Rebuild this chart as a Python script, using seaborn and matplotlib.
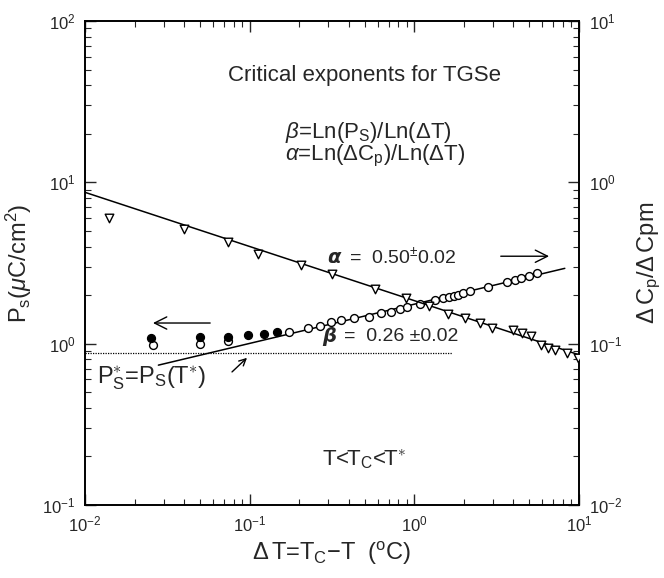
#Exponentes criticos TGSe: Ps y DeltaCp vs DeltaT (log-log, dos ejes)

import seaborn as sns
import matplotlib.pyplot as plt

# DeltaCp/DeltaCpm (eje derecho), triangulos
dt_cp = [0.0140, 0.0397, 0.0734, 0.112, 0.206, 0.318, 0.577, 0.889, 1.23, 1.61, 2.03,
         2.49, 2.96, 3.97, 4.50, 5.10, 5.87, 6.48, 7.14, 8.45, 9.85]
cp = [0.598, 0.512, 0.428, 0.359, 0.306, 0.269, 0.218, 0.192, 0.170, 0.153, 0.1435,
      0.134, 0.1245, 0.121, 0.117, 0.1115, 0.098, 0.0935, 0.092, 0.087, 0.082]

# Ps (eje izquierdo), circulos abiertos y llenos
dt_ps_open = [0.0258, 0.0499, 0.0738, 0.173, 0.227, 0.267, 0.312, 0.361, 0.430, 0.532,
              0.624, 0.721, 0.818, 0.906, 1.08, 1.33, 1.50, 1.63, 1.74, 1.85, 1.98,
              2.18, 2.81, 3.66, 4.08, 4.42, 4.98, 5.57]
ps_open = [0.994, 1.013, 1.052, 1.185, 1.244, 1.286, 1.371, 1.40, 1.435, 1.468,
           1.541, 1.577, 1.639, 1.693, 1.760, 1.863, 1.909, 1.953, 1.982, 2.00, 2.05,
           2.13, 2.25, 2.42, 2.48, 2.54, 2.62, 2.73]
dt_ps_fill = [0.0251, 0.0499, 0.0741, 0.0981, 0.122, 0.147]
ps_fill = [1.078, 1.094, 1.094, 1.131, 1.147, 1.175]

# rectas de ajuste (extremos)
fit_dt_cp = [0.01, 10.0]
fit_cp = [0.867, 0.0853]
fit_dt_ps = [0.0279, 8.2]
fit_ps = [0.736, 2.93]

# Ps* = Ps(T*)
pstar_dt = [0.01, 1.69]
pstar = [0.876, 0.876]

sns.set_style("ticks")
plt.rcParams['font.family'] = ['Liberation Sans', 'DejaVu Sans']
plt.rcParams['mathtext.fontset'] = 'custom'
plt.rcParams['mathtext.rm'] = 'Liberation Sans'
plt.rcParams['mathtext.it'] = 'Liberation Sans:italic'
plt.rcParams['mathtext.bf'] = 'Liberation Sans:bold'

fig = plt.figure(figsize=(6.64, 5.78), dpi=100)
ax = fig.add_axes([85/664, 1-505/578, 494/664, 484/578])
ax2 = ax.twinx()

for a in (ax, ax2):
    a.set_xscale('log')
    a.set_yscale('log')
ax.set_xlim(1e-2, 1e1)
ax.set_ylim(1e-1, 1e2)
ax2.set_ylim(1e-2, 1e1)

# lineas
sns.lineplot(x=fit_dt_cp, y=fit_cp, ax=ax2, color='black', lw=1.1)
sns.lineplot(x=fit_dt_ps, y=fit_ps, ax=ax, color='black', lw=1.1)
sns.lineplot(x=pstar_dt, y=pstar, ax=ax, color='black', lw=0.9, linestyle=(0, (1, 1)))

# puntos
sns.scatterplot(x=dt_cp, y=cp, ax=ax2, marker='v', s=38, facecolor='white',
                edgecolor='black', linewidth=1.0, zorder=3)
sns.scatterplot(x=dt_ps_open[:3], y=[v*0.985 for v in ps_open[:3]], ax=ax, marker='o', s=32,
                facecolor='white', edgecolor='black', linewidth=1.0, zorder=3)
sns.scatterplot(x=dt_ps_fill, y=ps_fill, ax=ax, marker='o', s=32, color='black',
                edgecolor='black', linewidth=1.0, zorder=4)
sns.scatterplot(x=dt_ps_open[3:], y=ps_open[3:], ax=ax, marker='o', s=32,
                facecolor='white', edgecolor='black', linewidth=1.0, zorder=3)

# ejes y ticks
ax.tick_params(which='both', direction='in', top=True, right=False, labelsize=12, pad=7)
ax.tick_params(which='major', length=8, width=1)
ax.tick_params(which='minor', length=4, width=0.8)
ax2.tick_params(which='both', direction='in', labelsize=12, pad=7)
ax2.tick_params(which='major', length=8, width=1)
ax2.tick_params(which='minor', length=4, width=0.8)
for a in (ax, ax2):
    for sp in a.spines.values():
        sp.set_linewidth(1.2)
        sp.set_color('black')

ax.set_xlabel(r'$\Delta\,$T=T$_\mathrm{C}$$-$T  ($^\mathrm{o}$C)', fontsize=17, labelpad=4)
ax.set_ylabel(r'P$_\mathrm{s}$($\mu$C/cm$^2$)', fontsize=17, labelpad=6)
ax2.set_ylabel(r'$\Delta\,$C$_\mathrm{p}$/$\Delta\,$Cpm', fontsize=17, labelpad=10)

# textos
ax.text(0.565, 0.888, 'Critical exponents for TGSe', transform=ax.transAxes,
        ha='center', va='center', fontsize=16)
ax.text(0.405, 0.770, r'$\beta$=Ln(P$_\mathrm{S}$)/Ln($\Delta$T)', transform=ax.transAxes,
        ha='left', va='center', fontsize=16)
ax.text(0.405, 0.722, r'$\alpha$=Ln($\Delta$C$_\mathrm{p}$)/Ln($\Delta$T)', transform=ax.transAxes,
        ha='left', va='center', fontsize=16)

ax.text(0.49, 0.512, 'α', transform=ax.transAxes, ha='left', va='center',
        fontsize=14, fontweight='bold', style='italic', family='DejaVu Sans')
ax.text(0.535, 0.512, '=  0.50$^{\\pm}$0.02', transform=ax.transAxes, ha='left',
        va='center', fontsize=14)
ax.text(0.48, 0.349, 'β', transform=ax.transAxes, ha='left', va='center',
        fontsize=14, fontweight='bold', style='italic', family='DejaVu Sans')
ax.text(0.525, 0.349, '=  0.26 ±0.02', transform=ax.transAxes, ha='left',
        va='center', fontsize=14)

ax.annotate('', xy=(0.945, 0.514), xytext=(0.836, 0.514), xycoords='axes fraction',
            arrowprops=dict(arrowstyle='->', color='black', lw=1, mutation_scale=22))
ax.annotate('', xy=(0.132, 0.376), xytext=(0.259, 0.376), xycoords='axes fraction',
            arrowprops=dict(arrowstyle='->', color='black', lw=1, mutation_scale=22))
ax.annotate('', xy=(0.332, 0.308), xytext=(0.2935, 0.271), xycoords='axes fraction',
            arrowprops=dict(arrowstyle='->', color='black', lw=1, mutation_scale=12))

ax.text(0.024, 0.262, r'P$_\mathrm{S}^{\ast}$=P$_\mathrm{S}$(T$^{\ast}$)', transform=ax.transAxes,
        ha='left', va='center', fontsize=17)
ax.text(0.565, 0.095, r'T<T$_\mathrm{C}$<T$^{\ast}$', transform=ax.transAxes,
        ha='center', va='center', fontsize=16)

fig.savefig('out.png', dpi=100)
